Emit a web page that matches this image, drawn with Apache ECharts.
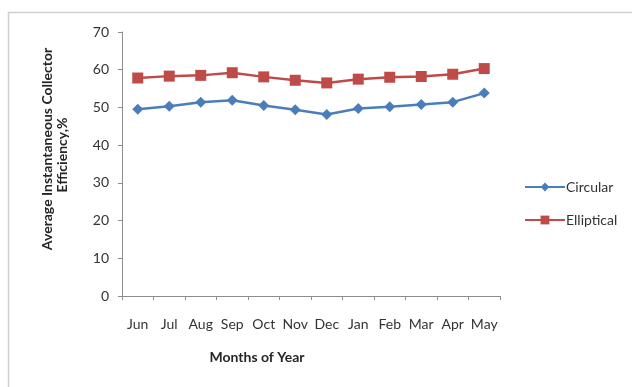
<!DOCTYPE html>
<html>
<head>
<meta charset="utf-8">
<script src="https://cdn.jsdelivr.net/npm/echarts@6/dist/echarts.min.js"></script>
<style>
  html, body { margin: 0; padding: 0; background: #fff; }
  #chart { width: 632px; height: 387px; }
</style>
</head>
<body>
<div id="chart"></div>
<script>
// Monthly average instantaneous collector efficiency (%)
const months = ['Jun', 'Jul', 'Aug', 'Sep', 'Oct', 'Nov', 'Dec', 'Jan', 'Feb', 'Mar', 'Apr', 'May'];
const circular = [49.5, 50.3, 51.4, 51.9, 50.5, 49.4, 48.1, 49.7, 50.2, 50.8, 51.4, 53.8];
const elliptical = [57.8, 58.3, 58.5, 59.2, 58.1, 57.2, 56.5, 57.5, 58.0, 58.2, 58.8, 60.3];
const seriesNames = ['Circular', 'Elliptical'];

const FONT = 'Lato, "Open Sans", sans-serif';
const chart = echarts.init(document.getElementById('chart'));

chart.setOption({
  animation: false,
  backgroundColor: '#ffffff',
  textStyle: { fontFamily: FONT },
  grid: { left: 122, right: 132, top: 32, bottom: 91 },
  graphic: [
    {
      type: 'rect',
      shape: { x: 8.5, y: 12.5, width: 640, height: 400 },
      style: { fill: 'none', stroke: '#cfcfcf', lineWidth: 1.5 },
      silent: true
    },
    {
      type: 'text',
      x: 47, y: 149, rotation: Math.PI / 2,
      style: {
        text: 'Average Instantaneous Collector', font: 'bold 14px ' + FONT,
        fill: '#262626', align: 'center', verticalAlign: 'middle'
      }
    },
    {
      type: 'text',
      x: 62, y: 155, rotation: Math.PI / 2,
      style: {
        text: 'Efficiency,%', font: 'bold 14px ' + FONT,
        fill: '#262626', align: 'center', verticalAlign: 'middle'
      }
    },
    {
      type: 'text',
      x: 257, y: 357,
      style: {
        text: 'Months of Year', font: 'bold 14px ' + FONT,
        fill: '#262626', align: 'center', verticalAlign: 'middle'
      }
    }
  ],
  legend: {
    orient: 'vertical',
    left: 519, top: 175,
    itemWidth: 40, itemHeight: 11, itemGap: 19,
    textStyle: { fontSize: 14, color: '#333', fontFamily: FONT, padding: [0, 0, 0, -4] },
    data: seriesNames
  },
  xAxis: {
    type: 'category',
    data: months,
    boundaryGap: true,
    axisLine: { lineStyle: { color: '#8c8c8c', width: 1 } },
    axisTick: { show: true, length: 4, lineStyle: { color: '#8c8c8c' } },
    axisLabel: { color: '#333', fontSize: 14, margin: 21, fontFamily: FONT, interval: 0 },
    splitLine: { show: false }
  },
  yAxis: {
    type: 'value',
    min: 0, max: 70, interval: 10,
    axisLine: { show: true, lineStyle: { color: '#8c8c8c', width: 1 } },
    axisTick: { show: true, length: 4, lineStyle: { color: '#8c8c8c' } },
    axisLabel: { color: '#333', fontSize: 14, margin: 13, fontFamily: FONT },
    splitLine: { show: false }
  },
  series: [
    {
      name: seriesNames[0],
      type: 'line',
      data: circular,
      symbol: 'diamond',
      symbolSize: 11,
      lineStyle: { color: '#4a7ebb', width: 2.5 },
      itemStyle: { color: '#4a7ebb' }
    },
    {
      name: seriesNames[1],
      type: 'line',
      data: elliptical,
      symbol: 'rect',
      symbolSize: 11,
      lineStyle: { color: '#be4b48', width: 2.5 },
      itemStyle: { color: '#be4b48' }
    }
  ]
});
</script>
</body>
</html>
